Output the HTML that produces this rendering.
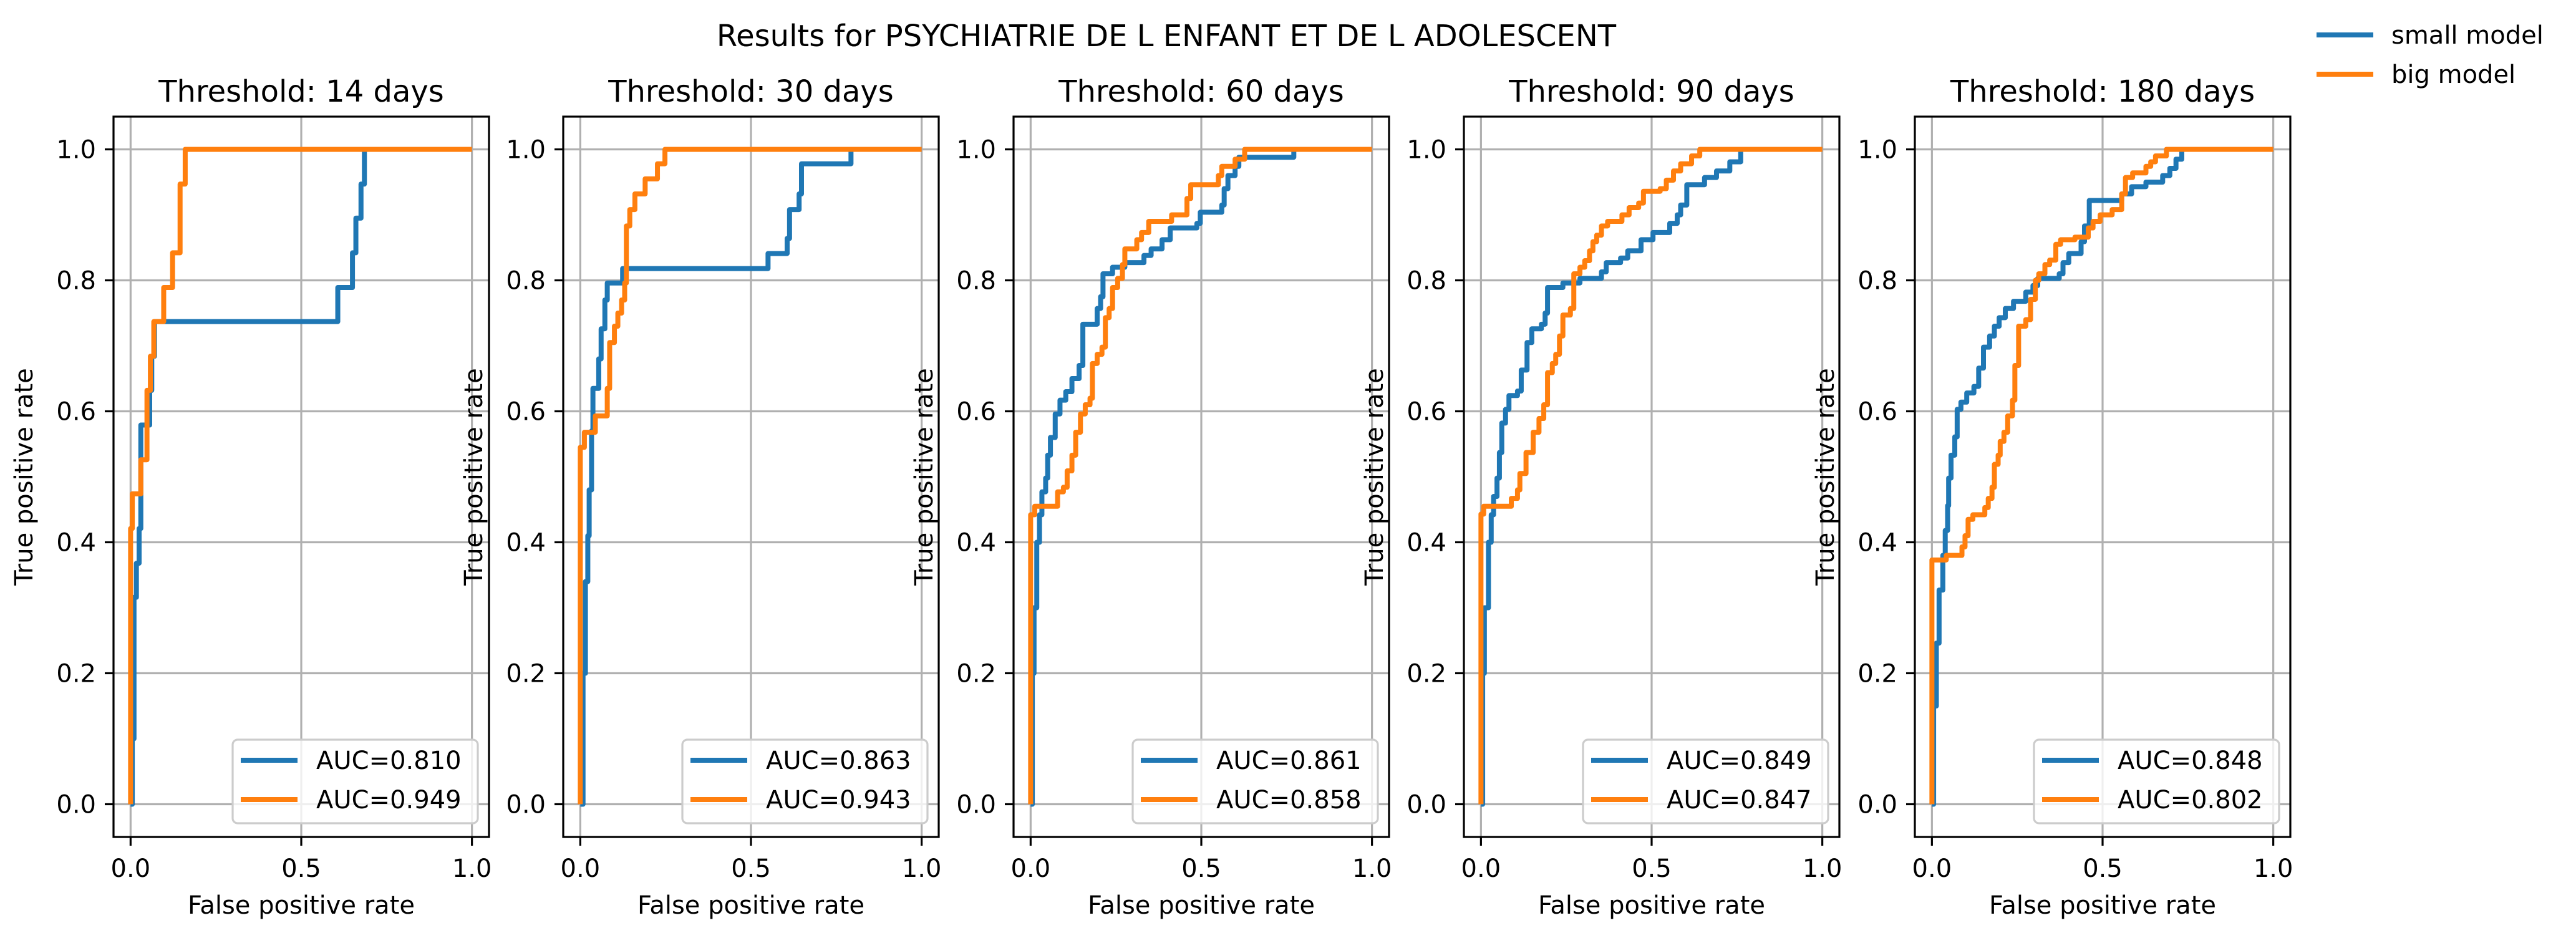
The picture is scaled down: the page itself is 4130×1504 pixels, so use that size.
<!DOCTYPE html>
<html><head><meta charset="utf-8">
<style>
html,body{margin:0;padding:0;background:#fff;}
svg{display:block;font-family:"DejaVu Sans","Liberation Sans",sans-serif;}
</style></head>
<body>
<svg id="fig" width="4130" height="1504" viewBox="0 0 4130 1504" xmlns="http://www.w3.org/2000/svg">
<rect width="4130" height="1504" fill="#fff"/>
<text x="1870" y="74" font-size="48" text-anchor="middle">Results for PSYCHIATRIE DE L ENFANT ET DE L ADOLESCENT</text>
<g>
<line x1="3714" y1="56" x2="3805" y2="56" stroke="#1f77b4" stroke-width="8"/>
<text x="3834" y="70" font-size="40">small model</text>
<line x1="3714" y1="119" x2="3805" y2="119" stroke="#ff7f0e" stroke-width="8"/>
<text x="3834" y="133" font-size="40">big model</text>
</g>
<g id="panels"></g>
</svg>
<script>
const titles = ["Threshold: 14 days","Threshold: 30 days","Threshold: 60 days","Threshold: 90 days","Threshold: 180 days"];
const aucSmall = ["0.810","0.863","0.861","0.849","0.848"];
const aucBig = ["0.949","0.943","0.858","0.847","0.802"];
const xTicks = [0, 0.5, 1];
const xTickLabels = ["0.0","0.5","1.0"];
const yTicks = [0, 0.2, 0.4, 0.6, 0.8, 1];
const yTickLabels = ["0.0","0.2","0.4","0.6","0.8","1.0"];

const fprSmall14 = [0,0.005,0.01,0.017,0.025,0.03,0.056,0.062,0.07,0.607,0.65,0.66,0.675,0.685,1];
const tprSmall14 = [0,0.1,0.316,0.368,0.421,0.579,0.632,0.684,0.737,0.789,0.842,0.895,0.947,1,1];
const fprBig14 = [0,0,0.005,0.03,0.048,0.058,0.068,0.097,0.123,0.145,0.16,1];
const tprBig14 = [0,0.421,0.474,0.526,0.632,0.684,0.737,0.789,0.842,0.947,1,1];

const fprSmall30 = [0,0.008,0.015,0.022,0.026,0.033,0.037,0.054,0.061,0.072,0.079,0.124,0.55,0.606,0.613,0.641,0.648,0.793,1];
const tprSmall30 = [0,0.2,0.34,0.41,0.48,0.57,0.635,0.68,0.726,0.77,0.796,0.818,0.841,0.864,0.908,0.932,0.978,1,1];
const fprBig30 = [0,0,0.012,0.044,0.079,0.086,0.1,0.11,0.121,0.13,0.135,0.145,0.16,0.19,0.226,0.248,1];
const tprBig30 = [0,0.545,0.568,0.593,0.635,0.705,0.73,0.75,0.77,0.796,0.883,0.908,0.932,0.955,0.978,1,1];

const fprSmall60 = [0,0.005,0.01,0.018,0.026,0.033,0.044,0.05,0.058,0.072,0.086,0.103,0.121,0.142,0.153,0.195,0.205,0.212,0.24,0.276,0.332,0.353,0.385,0.409,0.487,0.497,0.56,0.567,0.578,0.599,0.61,0.771,1];
const tprSmall60 = [0,0.2,0.3,0.4,0.442,0.477,0.498,0.533,0.56,0.596,0.617,0.63,0.65,0.67,0.733,0.757,0.775,0.81,0.82,0.827,0.838,0.848,0.862,0.88,0.887,0.904,0.915,0.94,0.96,0.974,0.988,1,1];
const fprBig60 = [0,0,0.012,0.079,0.096,0.107,0.121,0.132,0.146,0.16,0.174,0.181,0.195,0.209,0.219,0.23,0.24,0.255,0.269,0.276,0.311,0.325,0.346,0.413,0.458,0.469,0.55,0.56,0.599,0.627,1];
const tprBig60 = [0,0.442,0.455,0.477,0.484,0.509,0.533,0.568,0.596,0.61,0.62,0.673,0.687,0.698,0.743,0.757,0.789,0.803,0.824,0.848,0.862,0.873,0.89,0.9,0.925,0.946,0.96,0.974,0.985,1,1];

const fprSmall90 = [0,0.005,0.01,0.022,0.03,0.037,0.047,0.054,0.061,0.072,0.082,0.107,0.118,0.135,0.149,0.177,0.188,0.195,0.24,0.29,0.353,0.367,0.409,0.43,0.469,0.504,0.553,0.575,0.585,0.603,0.655,0.69,0.729,0.761,0.761,1];
const tprSmall90 = [0,0.2,0.3,0.4,0.442,0.47,0.498,0.537,0.582,0.603,0.624,0.631,0.663,0.705,0.726,0.733,0.75,0.789,0.796,0.803,0.813,0.827,0.834,0.845,0.862,0.873,0.887,0.9,0.915,0.946,0.957,0.967,0.981,0.992,1,1];
const fprBig90 = [0,0,0.008,0.089,0.107,0.114,0.132,0.153,0.17,0.184,0.195,0.209,0.219,0.23,0.24,0.262,0.272,0.29,0.304,0.318,0.328,0.339,0.353,0.371,0.413,0.434,0.462,0.476,0.525,0.543,0.564,0.585,0.617,0.641,1];
const tprBig90 = [0,0.443,0.455,0.467,0.48,0.505,0.537,0.568,0.589,0.61,0.659,0.673,0.687,0.715,0.747,0.757,0.81,0.82,0.83,0.845,0.859,0.869,0.883,0.89,0.9,0.911,0.918,0.936,0.94,0.953,0.967,0.978,0.99,1,1];

const fprSmall180 = [0,0.005,0.013,0.021,0.032,0.039,0.046,0.049,0.056,0.067,0.074,0.085,0.102,0.123,0.137,0.151,0.169,0.183,0.197,0.215,0.239,0.275,0.296,0.31,0.373,0.384,0.401,0.437,0.447,0.461,0.556,0.585,0.627,0.676,0.697,0.715,0.732,1];
const tprSmall180 = [0,0.15,0.246,0.327,0.38,0.418,0.456,0.498,0.533,0.561,0.603,0.614,0.628,0.638,0.666,0.698,0.715,0.73,0.743,0.757,0.768,0.782,0.792,0.803,0.81,0.827,0.841,0.859,0.883,0.922,0.932,0.943,0.95,0.96,0.971,0.985,1,1];
const fprBig180 = [0,0,0.042,0.088,0.097,0.106,0.12,0.155,0.165,0.176,0.183,0.194,0.2,0.211,0.222,0.236,0.243,0.254,0.275,0.289,0.303,0.313,0.331,0.345,0.363,0.377,0.419,0.458,0.472,0.493,0.528,0.556,0.567,0.588,0.627,0.641,0.655,0.687,0.7,1];
const tprBig180 = [0,0.373,0.38,0.393,0.41,0.435,0.442,0.453,0.467,0.484,0.519,0.533,0.554,0.568,0.593,0.617,0.67,0.73,0.74,0.771,0.8,0.81,0.824,0.831,0.855,0.862,0.866,0.88,0.89,0.9,0.908,0.932,0.957,0.964,0.974,0.981,0.99,1,1,1];

const smallFpr = [fprSmall14,fprSmall30,fprSmall60,fprSmall90,fprSmall180];
const smallTpr = [tprSmall14,tprSmall30,tprSmall60,tprSmall90,tprSmall180];
const bigFpr = [fprBig14,fprBig30,fprBig60,fprBig90,fprBig180];
const bigTpr = [tprBig14,tprBig30,tprBig60,tprBig90,tprBig180];

const NS = "http://www.w3.org/2000/svg";
const panelLeft = [182, 903, 1625, 2347, 3070];
const AW = 602, AT = 187, AH = 1155;
function mk(tag, attrs, parent){
  const e = document.createElementNS(NS, tag);
  for (const k in attrs) e.setAttribute(k, attrs[k]);
  parent.appendChild(e);
  return e;
}
const root = document.getElementById("panels");
for (let p = 0; p < 5; p++) {
  const L = panelLeft[p];
  const sx = v => L + (v + 0.05) / 1.1 * AW;
  const sy = v => AT + (1.05 - v) / 1.1 * AH;
  const g = mk("g", {}, root);
  
  
  const t = mk("text", {x: L + AW / 2, y: 163, "font-size": 48, "text-anchor": "middle"}, g);
  t.textContent = titles[p];
  
  
  xTicks.forEach((v, i) => {
    const ln = mk("line", {x1: sx(v), x2: sx(v), y1: AT, y2: AT + AH, stroke: "#b0b0b0", "stroke-width": 3.2}, g);
    
    
    const tk = mk("line", {x1: sx(v), x2: sx(v), y1: AT + AH, y2: AT + AH + 14, stroke: "#000", "stroke-width": 3.2}, g);
    
    
    const tl = mk("text", {x: sx(v), y: 1406, "font-size": 40, "text-anchor": "middle"}, g);
    tl.textContent = xTickLabels[i];
    
    
  });
  yTicks.forEach((v, i) => {
    const ln = mk("line", {x1: L, x2: L + AW, y1: sy(v), y2: sy(v), stroke: "#b0b0b0", "stroke-width": 3.2}, g);
    
    
    const tk = mk("line", {x1: L - 14, x2: L, y1: sy(v), y2: sy(v), stroke: "#000", "stroke-width": 3.2}, g);
    
    
    const tl = mk("text", {x: L - 28, y: sy(v) + 14, "font-size": 40, "text-anchor": "end"}, g);
    tl.textContent = yTickLabels[i];
    
    
  });
  const xl = mk("text", {x: L + AW / 2, y: 1465, "font-size": 40, "text-anchor": "middle"}, g);
  xl.textContent = "False positive rate";
  
  
  const yx = L - 130, yy = AT + AH / 2;
  const yl = mk("text", {x: yx, y: yy, "font-size": 40, "text-anchor": "middle", transform: "rotate(-90 " + yx + " " + yy + ")"}, g);
  yl.textContent = "True positive rate";
  
  
  const series = [[smallFpr[p], smallTpr[p], "#1f77b4", "small"], [bigFpr[p], bigTpr[p], "#ff7f0e", "big"]];
  series.forEach(s => {
    const xs = s[0], ys = s[1];
    let d = "M" + sx(xs[0]) + "," + sy(ys[0]);
    for (let i = 1; i < xs.length; i++) {
      d += " L" + sx(xs[i]) + "," + sy(ys[i - 1]) + " L" + sx(xs[i]) + "," + sy(ys[i]);
    }
    const path = mk("path", {d: d, fill: "none", stroke: s[2], "stroke-width": 8, "stroke-linejoin": "round"}, g);
    
    
  });
  const fr = mk("rect", {x: L, y: AT, width: AW, height: AH, fill: "none", stroke: "#000", "stroke-width": 3.2}, g);
  
  
  const lg = mk("g", {}, g);
  
  
  mk("rect", {x: L + 191, y: 1186, width: 393, height: 134, rx: 8, fill: "#fff", "fill-opacity": 0.8, stroke: "#cccccc", "stroke-width": 3.2}, lg);
  mk("line", {x1: L + 204, x2: L + 295, y1: 1219, y2: 1219, stroke: "#1f77b4", "stroke-width": 8}, lg);
  mk("line", {x1: L + 204, x2: L + 295, y1: 1282, y2: 1282, stroke: "#ff7f0e", "stroke-width": 8}, lg);
  const a1 = mk("text", {x: L + 325, y: 1233, "font-size": 40}, lg);
  a1.textContent = "AUC=" + aucSmall[p];
  
  
  const a2 = mk("text", {x: L + 325, y: 1296, "font-size": 40}, lg);
  a2.textContent = "AUC=" + aucBig[p];
  
  
}
</script>
</body></html>
